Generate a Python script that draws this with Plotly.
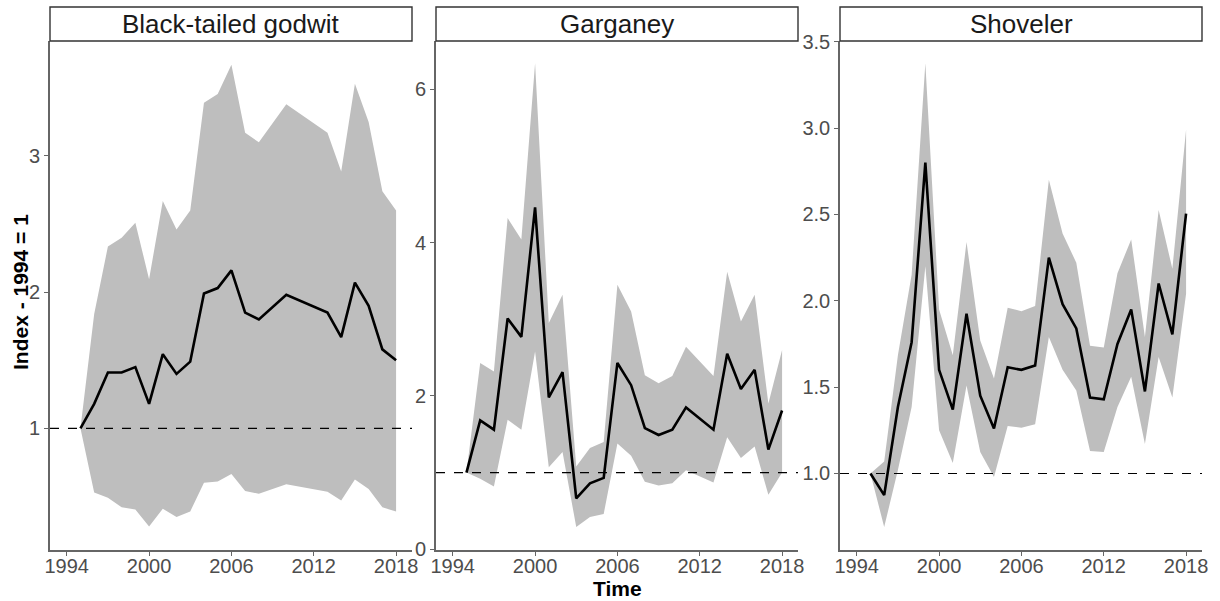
import plotly.graph_objects as go

# ---------------- data ----------------
godwit_years = [1995, 1996, 1997, 1998, 1999, 2000, 2001, 2002, 2003, 2004, 2005, 2006,
                2007, 2008, 2010, 2013, 2014, 2015, 2016, 2017, 2018]
godwit_index = [1.0, 1.18, 1.41, 1.41, 1.45, 1.18, 1.545, 1.40, 1.49, 1.99, 2.03, 2.16,
                1.85, 1.80, 1.98, 1.85, 1.67, 2.07, 1.90, 1.58, 1.50]
godwit_upper = [1.0, 1.84, 2.335, 2.40, 2.51, 2.095, 2.67, 2.46, 2.60, 3.39, 3.455, 3.67,
                3.17, 3.10, 3.38, 3.17, 2.885, 3.53, 3.25, 2.74, 2.60]
godwit_lower = [1.0, 0.53, 0.49, 0.42, 0.405, 0.28, 0.41, 0.35, 0.39, 0.60, 0.61, 0.665,
                0.54, 0.52, 0.59, 0.535, 0.47, 0.625, 0.555, 0.42, 0.39]

garganey_years = [1995, 1996, 1997, 1998, 1999, 2000, 2001, 2002, 2003, 2004, 2005, 2006,
                  2007, 2008, 2009, 2010, 2011, 2013, 2014, 2015, 2016, 2017, 2018]
garganey_index = [1.0, 1.68, 1.56, 3.01, 2.77, 4.46, 1.98, 2.31, 0.665, 0.86, 0.93, 2.43,
                  2.14, 1.58, 1.49, 1.56, 1.85, 1.56, 2.55, 2.09, 2.34, 1.30, 1.81]
garganey_upper = [1.0, 2.43, 2.32, 4.32, 4.04, 6.34, 2.95, 3.32, 1.08, 1.32, 1.40, 3.45,
                  3.10, 2.27, 2.165, 2.26, 2.64, 2.26, 3.62, 2.97, 3.32, 1.90, 2.60]
garganey_lower = [1.0, 0.92, 0.82, 1.69, 1.56, 2.58, 1.07, 1.27, 0.29, 0.42, 0.46, 1.38,
                  1.22, 0.88, 0.83, 0.86, 1.03, 0.87, 1.46, 1.19, 1.34, 0.71, 1.0]

shoveler_years = [1995, 1996, 1997, 1998, 1999, 2000, 2001, 2002, 2003, 2004, 2005, 2006,
                  2007, 2008, 2009, 2010, 2011, 2012, 2013, 2014, 2015, 2016, 2017, 2018]
shoveler_index = [1.0, 0.875, 1.385, 1.76, 2.80, 1.60, 1.37, 1.925, 1.45, 1.26, 1.615, 1.60,
                  1.625, 2.25, 1.98, 1.84, 1.44, 1.43, 1.75, 1.95, 1.475, 2.10, 1.805, 2.505]
shoveler_upper = [1.0, 1.07, 1.685, 2.15, 3.375, 1.95, 1.685, 2.34, 1.77, 1.55, 1.96, 1.94,
                  1.97, 2.70, 2.39, 2.22, 1.74, 1.73, 2.16, 2.355, 1.79, 2.525, 2.185, 2.99]
shoveler_lower = [1.0, 0.69, 1.02, 1.385, 2.20, 1.25, 1.06, 1.51, 1.125, 0.98, 1.275, 1.265,
                  1.285, 1.79, 1.60, 1.48, 1.13, 1.125, 1.385, 1.56, 1.17, 1.675, 1.44, 2.04]

panel_titles = ["Black-tailed godwit", "Garganey", "Shoveler"]
x_ticks = [1994, 2000, 2006, 2012, 2018]
y_ticks = [[1, 2, 3], [0, 2, 4, 6], [1.0, 1.5, 2.0, 2.5, 3.0, 3.5]]
y_ticktext = [["1", "2", "3"], ["0", "2", "4", "6"], ["1.0", "1.5", "2.0", "2.5", "3.0", "3.5"]]
y_ranges = [[0.107, 3.844], [-0.01, 6.63], [0.557, 3.504]]
x_range = [1992.78, 2019.16]

series = [
    (godwit_years, godwit_index, godwit_upper, godwit_lower),
    (garganey_years, garganey_index, garganey_upper, garganey_lower),
    (shoveler_years, shoveler_index, shoveler_upper, shoveler_lower),
]

# ---------------- layout geometry (pixels) ----------------
W, H = 1220, 601
panel_px = [(50, 412), (436, 798), (840, 1202)]
plot_top, plot_bottom = 41, 550
strip_top = 7

fig = go.Figure()
axis_color = "#666666"
font_family = "Liberation Sans, Arial, sans-serif"
tick_font = dict(family=font_family, size=20, color="#4D4D4D")

for i, (yrs, idx, up, lo) in enumerate(series):
    xa = "x" if i == 0 else f"x{i+1}"
    ya = "y" if i == 0 else f"y{i+1}"
    # ribbon
    fig.add_trace(go.Scatter(
        x=list(yrs) + list(yrs)[::-1],
        y=list(up) + list(lo)[::-1],
        fill="toself", fillcolor="#BEBEBE", line=dict(width=0),
        mode="lines", hoverinfo="skip", showlegend=False, xaxis=xa, yaxis=ya))
    # index line
    fig.add_trace(go.Scatter(
        x=yrs, y=idx, mode="lines", line=dict(color="black", width=2.6),
        showlegend=False, xaxis=xa, yaxis=ya))

    x0, x1 = panel_px[i]
    dom_x = [x0 / W, x1 / W]
    dom_y = [1 - plot_bottom / H, 1 - plot_top / H]
    common_axis = dict(showline=True, linecolor=axis_color, linewidth=1.6,
                       ticks="outside", ticklen=4, tickcolor=axis_color, tickwidth=1.2,
                       showgrid=False, zeroline=False, tickfont=tick_font,
                       automargin=False)
    fig.layout[f"xaxis{'' if i == 0 else i+1}"] = dict(
        domain=dom_x, anchor=ya, range=x_range, tickmode="array",
        tickvals=x_ticks, ticktext=[str(t) for t in x_ticks],
        ticklabelstandoff=-7, **common_axis)
    fig.layout[f"yaxis{'' if i == 0 else i+1}"] = dict(
        domain=dom_y, anchor=xa, range=y_ranges[i], tickmode="array",
        tickvals=y_ticks[i], ticktext=y_ticktext[i], **common_axis)

    # dashed reference line at 1
    fig.add_shape(type="line", xref=f"{xa} domain", yref=ya, x0=0, x1=1, y0=1, y1=1,
                  line=dict(color="black", width=1.2, dash="dash"), layer="above")
    # strip box
    fig.add_shape(type="rect", xref="paper", yref="paper",
                  x0=x0 / W, x1=x1 / W, y0=1 - plot_top / H, y1=1 - strip_top / H,
                  line=dict(color="#333333", width=1.4), fillcolor="white")
    fig.add_annotation(text=panel_titles[i], xref="paper", yref="paper",
                       x=(x0 + x1) / 2 / W, y=1 - (strip_top + plot_top) / 2 / H,
                       showarrow=False, xanchor="center", yanchor="middle",
                       font=dict(family=font_family, size=26, color="#1A1A1A"))

# axis titles
fig.add_annotation(text="<b>Time</b>", xref="paper", yref="paper",
                   x=617 / W, y=1 - 588 / H, showarrow=False,
                   xanchor="center", yanchor="middle",
                   font=dict(family=font_family, size=21, color="black"))
fig.add_annotation(text="<b>Index - 1994 = 1</b>", xref="paper", yref="paper",
                   x=20 / W, y=1 - 292 / H, showarrow=False, textangle=-90,
                   xanchor="center", yanchor="middle",
                   font=dict(family=font_family, size=21, color="black"))

fig.update_layout(width=W, height=H, margin=dict(l=0, r=0, t=0, b=0),
                  paper_bgcolor="white", plot_bgcolor="white", showlegend=False)

fig.write_html("out.html")
